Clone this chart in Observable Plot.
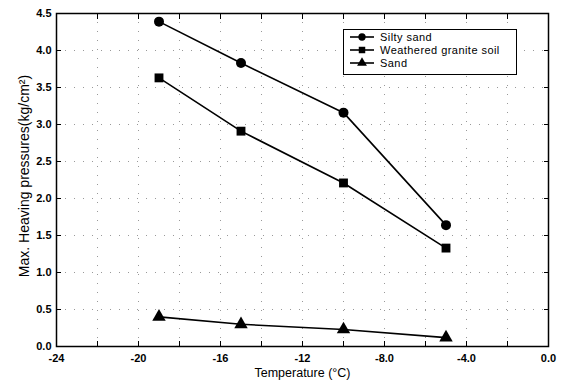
<!DOCTYPE html>
<html><head><meta charset="utf-8">
<script src="https://cdn.jsdelivr.net/npm/d3@7"></script>
<script src="https://cdn.jsdelivr.net/npm/@observablehq/plot@0.6"></script>
<style>
body{margin:0;background:#fff}
#c{position:relative;width:566px;height:386px;font-family:"Liberation Sans",Arial,sans-serif}
#legend{position:absolute;left:343px;top:29px;width:174px;height:46px;border:1.5px solid #000;background:#fff;box-sizing:border-box}
#legend svg{display:block}
</style>
</head><body><div id="c"></div>
<script>
const temperatures = [-19, -15, -10, -5];
const siltySand = [4.39, 3.83, 3.16, 1.64];
const graniteSoil = [3.63, 2.91, 2.21, 1.33];
const sand = [0.40, 0.30, 0.23, 0.12];
const seriesNames = ["Silty sand", "Weathered granite soil", "Sand"];
const seriesSymbols = ["circle", "square", "triangle"];
const xTicks = [-24, -22, -20, -18, -16, -14, -12, -10, -8, -6, -4, -2, 0];
const xMajor = [-24, -20, -16, -12, -8, -4, 0];
const xMajorLabels = ["-24", "-20", "-16", "-12", "-8.0", "-4.0", "0.0"];
const yTicks = [0, 0.5, 1, 1.5, 2, 2.5, 3, 3.5, 4, 4.5];
const yTickLabels = ["0.0", "0.5", "1.0", "1.5", "2.0", "2.5", "3.0", "3.5", "4.0", "4.5"];
const xTitle = "Temperature (°C)";
const yTitle = "Max. Heaving pressures(kg/cm²)";

const seriesValues = [siltySand, graniteSoil, sand];
const data = seriesNames.flatMap((s, i) => temperatures.map((t, j) => ({series: s, t, v: seriesValues[i][j]})));
const xLab = d => { const k = xMajor.indexOf(d); return k >= 0 ? xMajorLabels[k] : ""; };
const yLab = d => yTickLabels[yTicks.indexOf(d)];

const chart = Plot.plot({
  width: 566, height: 386,
  marginLeft: 56, marginRight: 18, marginTop: 13, marginBottom: 40,
  x: {domain: [-24, 0]},
  y: {domain: [0, 4.5]},
  symbol: {domain: seriesNames, range: seriesSymbols},
  style: {fontFamily: "'Liberation Sans', Arial, sans-serif", fontSize: "11px", color: "#000", background: "#fff"},
  marks: [
    Plot.ruleX(xTicks.slice(1, -1), {stroke: "#999", strokeWidth: 1, strokeDasharray: "1,8"}),
    Plot.ruleY(yTicks.slice(1, -1), {stroke: "#999", strokeWidth: 1, strokeDasharray: "1,8"}),
    Plot.frame({stroke: "#000", strokeWidth: 1.5}),
    Plot.axisX({ticks: xTicks, tickSize: -5, tickPadding: 13, tickFormat: xLab, fontWeight: "bold", label: null, stroke: "#000"}),
    Plot.axisX({anchor: "top", ticks: xTicks, tickSize: -5, tickFormat: () => "", label: null}),
    Plot.axisY({ticks: yTicks, tickSize: -5, tickPadding: 10, tickFormat: yLab, fontWeight: "bold", label: null}),
    Plot.axisY({anchor: "right", ticks: yTicks, tickSize: -5, tickFormat: () => "", label: null}),
    Plot.text([xTitle], {frameAnchor: "bottom", dy: 30, fontSize: 12.5, text: d => d}),
    Plot.text([yTitle], {frameAnchor: "left", dx: -32, dy: -4, rotate: -90, textAnchor: "middle", fontSize: 14, text: d => d}),
    Plot.line(data, {x: "t", y: "v", z: "series", stroke: "#000", strokeWidth: 1.6}),
    Plot.dot(data, {x: "t", y: "v", symbol: "series", fill: "#000", stroke: "none", r: 5})
  ]
});
const c = document.getElementById("c");
c.appendChild(chart);

// legend
const symbolTypes = {circle: d3.symbolCircle, square: d3.symbolSquare, triangle: d3.symbolTriangle};
const lg = document.createElement("div");
lg.id = "legend";
const ns = "http://www.w3.org/2000/svg";
const svg = document.createElementNS(ns, "svg");
svg.setAttribute("width", 171); svg.setAttribute("height", 43);
seriesNames.forEach((name, i) => {
  const y = 7 + i * 13;
  const line = document.createElementNS(ns, "line");
  line.setAttribute("x1", 6); line.setAttribute("x2", 30);
  line.setAttribute("y1", y); line.setAttribute("y2", y);
  line.setAttribute("stroke", "#000"); line.setAttribute("stroke-width", 1.6);
  svg.appendChild(line);
  const p = document.createElementNS(ns, "path");
  p.setAttribute("d", d3.symbol(symbolTypes[seriesSymbols[i]], 42)());
  p.setAttribute("transform", `translate(18,${y})`);
  svg.appendChild(p);
  const t = document.createElementNS(ns, "text");
  t.setAttribute("x", 36); t.setAttribute("y", y); t.setAttribute("dy", "0.35em");
  t.setAttribute("font-size", 11); t.setAttribute("letter-spacing", "0.45");
  t.setAttribute("font-family", "'Liberation Sans', Arial, sans-serif");
  t.textContent = name;
  svg.appendChild(t);
});
lg.appendChild(svg);
c.appendChild(lg);
</script>
</body></html>
